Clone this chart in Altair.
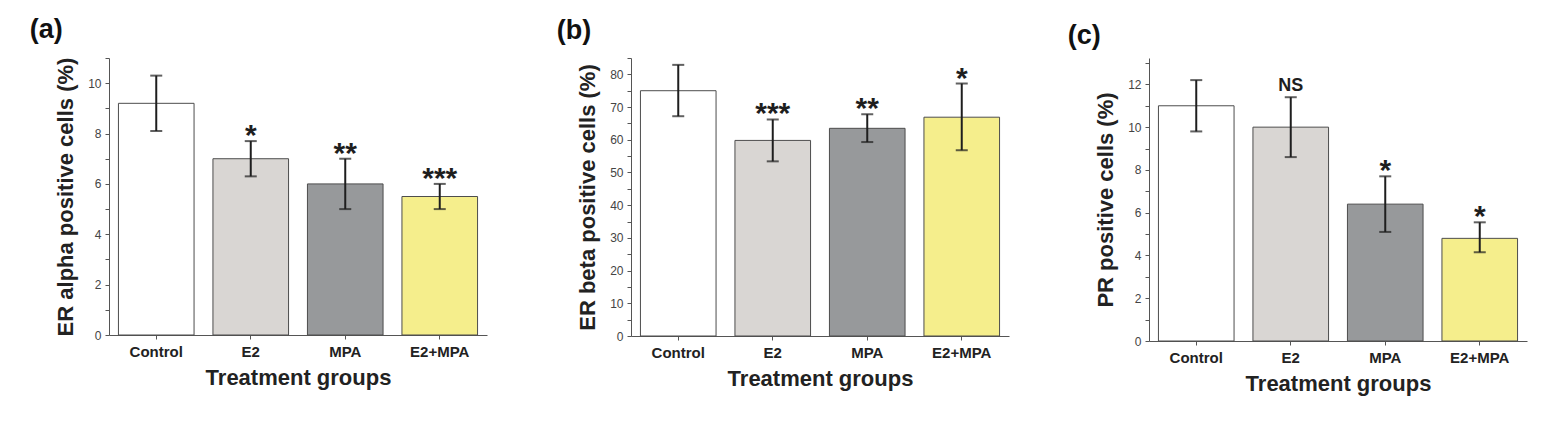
import altair as alt
import pandas as pd

FONT = "Liberation Sans, Arial, sans-serif"

groups = ["Control", "E2", "MPA", "E2+MPA"]
colors = ["#ffffff", "#d9d6d3", "#97999b", "#f5ee8c"]

# Panel (a): ER alpha
a_mean = [9.2, 7.0, 6.0, 5.5]
a_lo = [8.1, 6.3, 5.0, 5.0]
a_hi = [10.3, 7.7, 7.0, 6.0]
a_sig = ["", "*", "**", "***"]

# Panel (b): ER beta
b_mean = [75.0, 59.8, 63.5, 66.9]
b_lo = [67.2, 53.4, 59.3, 56.8]
b_hi = [82.9, 66.2, 67.8, 77.2]
b_sig = ["", "***", "**", "*"]

# Panel (c): PR
c_mean = [11.0, 10.0, 6.4, 4.8]
c_lo = [9.8, 8.6, 5.1, 4.15]
c_hi = [12.2, 11.4, 7.7, 5.55]
c_sig = ["", "NS", "*", "*"]


def panel(label, ytitle, mean, lo, hi, sig, ymax, tickmax, major, minor, title_dx,
          height, title_dy):
    df = pd.DataFrame({"group": groups, "mean": mean, "lo": lo, "hi": hi, "sig": sig})
    base = alt.Chart(df)
    xaxis = alt.Axis(
        title="Treatment groups", labelAngle=0, labelFontSize=15, labelFontWeight="bold",
        labelColor="#222", labelFont=FONT, titleFont=FONT, titleFontSize=22,
        titleFontWeight="bold", titleColor="#222", titlePadding=8, tickSize=4,
        labelPadding=5, domainColor="#555", tickColor="#555",
    )
    xscale = alt.Scale(domain=groups, paddingInner=0.2, paddingOuter=0.1)
    x = alt.X("group:N", sort=groups, scale=xscale, axis=xaxis)
    ticks = list(range(0, tickmax + 1, minor))
    yaxis = alt.Axis(
        title=ytitle, values=ticks,
        labelExpr=f"datum.value % {major} == 0 ? datum.label : ''",
        labelFontSize=12, labelColor="#444", labelFont=FONT, titleFont=FONT,
        titleFontSize=22, titleFontWeight="bold", titleColor="#222", titlePadding=10,
        tickSize=4, labelPadding=4, domainColor="#555", tickColor="#555", grid=False,
    )
    yscale = alt.Scale(domain=[0, ymax], nice=False, zero=True)

    bars = base.mark_bar(stroke="#4d4d4d", strokeWidth=1).encode(
        x=x,
        y=alt.Y("mean:Q", scale=yscale, axis=yaxis),
        color=alt.Color("group:N", scale=alt.Scale(domain=groups, range=colors), legend=None),
    )
    rule = base.mark_rule(color="#1e1e1e", strokeWidth=2).encode(
        x=x, y=alt.Y("lo:Q", scale=yscale, axis=yaxis), y2="hi:Q"
    )
    cap_lo = base.mark_tick(color="#1e1e1e", thickness=2, size=12).encode(
        x=x, y=alt.Y("lo:Q", scale=yscale, axis=yaxis)
    )
    cap_hi = base.mark_tick(color="#1e1e1e", thickness=2, size=12).encode(
        x=x, y=alt.Y("hi:Q", scale=yscale, axis=yaxis)
    )
    stars = base.transform_filter("datum.sig != '' && datum.sig != 'NS'").mark_text(
        font=FONT, fontSize=30, fontWeight="bold", baseline="alphabetic", dy=4, color="#1e1e1e"
    ).encode(x=x, y=alt.Y("hi:Q", scale=yscale, axis=yaxis), text="sig:N")
    ns = base.transform_filter("datum.sig == 'NS'").mark_text(
        font=FONT, fontSize=18, fontWeight="bold", baseline="alphabetic", dy=-6, color="#1e1e1e"
    ).encode(x=x, y=alt.Y("hi:Q", scale=yscale, axis=yaxis), text="sig:N")

    title = alt.TitleParams(text=label, anchor="start", frame="bounds", fontSize=27,
                            fontWeight="bold", font=FONT, color="#111", dx=title_dx,
                            dy=title_dy, offset=13)
    return alt.layer(bars, rule, cap_lo, cap_hi, stars, ns).properties(
        width=378, height=height, title=title
    )


pa = panel("(a)", "ER alpha positive cells (%)", a_mean, a_lo, a_hi, a_sig,
           11, 11, 2, 1, -25, 277, 0)
pb = panel("(b)", "ER beta positive cells (%)", b_mean, b_lo, b_hi, b_sig,
           85, 85, 10, 5, -20, 278, 0)
# panel (c) sits ~5 px lower in the original figure
pc = panel("(c)", "PR positive cells (%)", c_mean, c_lo, c_hi, c_sig,
           13.0 * 283 / 278, 13, 2, 1, -27, 283, 5)

chart = alt.hconcat(alt.hconcat(pa, pb, spacing=69), pc, spacing=58).properties(
    padding={"left": 21, "top": 8, "right": 5, "bottom": 5},
    background="white",
).configure_view(stroke=None)

chart.save("out.html", embed_options={"renderer": "svg", "actions": False})
